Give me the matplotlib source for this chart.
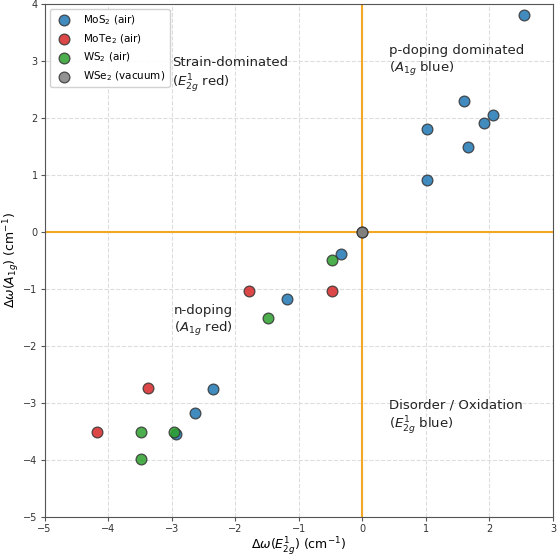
import matplotlib
matplotlib.use("Agg")
from matplotlib import pyplot as plt

# shifts (cm^-1)
mos2_x = [2.55, 1.60, 2.05, 1.91, 1.02, 1.66, 1.02, -0.33, -1.18, -2.35, -2.64, -2.94]
mos2_y = [3.80, 2.30, 2.06, 1.91, 1.81, 1.49, 0.91, -0.39, -1.17, -2.76, -3.18, -3.54]
mote2_x = [-0.48, -1.78, -3.37, -4.18]
mote2_y = [-1.03, -1.03, -2.74, -3.50]
ws2_x = [-0.48, -1.48, -3.48, -2.97, -3.48]
ws2_y = [-0.49, -1.50, -3.50, -3.50, -3.99]
wse2_x = [0.0, 0.0]
wse2_y = [0.0, 0.0]

series = [
    (mos2_x, mos2_y, "#1f77b4", "MoS$_2$ (air)"),
    (mote2_x, mote2_y, "#d62728", "MoTe$_2$ (air)"),
    (ws2_x, ws2_y, "#2ca02c", "WS$_2$ (air)"),
    (wse2_x, wse2_y, "#7f7f7f", "WSe$_2$ (vacuum)"),
]

fig = plt.figure(figsize=(5.58, 5.56), dpi=100)
ax = fig.add_axes([0.080, 0.070, 0.911, 0.923])

ax.axhline(0, color="#f5a623", lw=1.5, zorder=1)
ax.axvline(0, color="#f5a623", lw=1.5, zorder=1)

for xs, ys, c, lab in series:
    ax.scatter(xs, ys, s=60, color=c, alpha=0.85, edgecolors="#333333",
               linewidths=0.9, label=lab, zorder=3)

# quadrant notes
ax.text(-3.0, 2.75, "Strain-dominated\n($E^1_{2g}$ red)", ha="left", va="center", fontsize=9.5, color="#222222")
ax.text(0.42, 3.0, "p-doping dominated\n($A_{1g}$ blue)", ha="left", va="center", fontsize=9.5, color="#222222")
ax.text(-2.97, -1.56, "n-doping\n($A_{1g}$ red)", ha="left", va="center", fontsize=9.5, color="#222222")
ax.text(0.42, -3.25, "Disorder / Oxidation\n($E^1_{2g}$ blue)", ha="left", va="center", fontsize=9.5, color="#222222")

ax.set_xlim(-5, 3)
ax.set_ylim(-5, 4)
ax.set_xlabel(r"$\Delta\omega(E^1_{2g})$ (cm$^{-1}$)", fontsize=9, labelpad=1)
ax.set_ylabel(r"$\Delta\omega(A_{1g})$ (cm$^{-1}$)", fontsize=9, labelpad=1)
ax.tick_params(labelsize=7, length=3, pad=2, color="#555555", labelcolor="#333333")
for s in ax.spines.values():
    s.set_color("#555555")
ax.grid(True, ls="--", color="#dddddd", lw=0.8, zorder=0)
ax.set_axisbelow(True)
ax.legend(loc="upper left", fontsize=7.5, framealpha=0.9)

fig.savefig("out.png", dpi=100)
